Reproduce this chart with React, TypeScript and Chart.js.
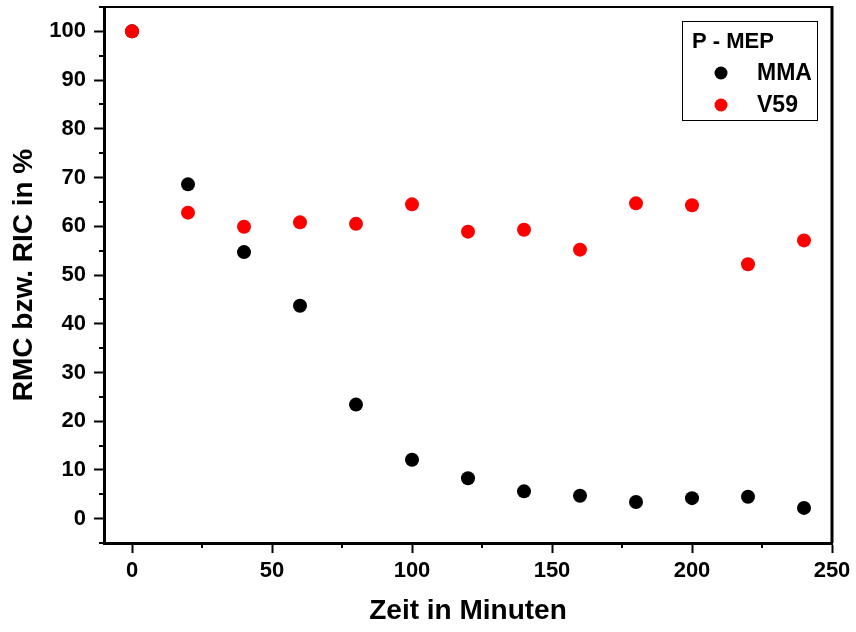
import React, { useEffect, useRef } from "react";
import { Chart, registerables } from "chart.js";

Chart.register(...registerables);

const timeMinutes = [0, 20, 40, 60, 80, 100, 120, 140, 160, 180, 200, 220, 240];
const mmaValues = [100, 68.6, 54.7, 43.7, 23.4, 12.1, 8.3, 5.6, 4.7, 3.4, 4.2, 4.5, 2.2];
const v59Values = [100, 62.8, 59.9, 60.8, 60.5, 64.5, 58.9, 59.3, 55.2, 64.7, 64.3, 52.2, 57.1];
const seriesLabels = ["MMA", "V59"];
const legendTitle = "P - MEP";
const xTickValues = [0, 50, 100, 150, 200, 250];
const yTickValues = [0, 10, 20, 30, 40, 50, 60, 70, 80, 90, 100];
const xMinorTicks = [25, 75, 125, 175, 225];
const yMinorTicks = [-5, 5, 15, 25, 35, 45, 55, 65, 75, 85, 95, 105];
const xTitle = "Zeit in Minuten";
const yTitle = "RMC bzw. RIC in %";

const FONT = "'Liberation Sans', Arial, sans-serif";

const framePlugin = {
  id: "frameAndLegend",
  afterDraw(chart: any) {
    const ctx = chart.ctx;
    const { left, right, top, bottom } = chart.chartArea;
    const xs = chart.scales.x;
    const ys = chart.scales.y;
    ctx.save();
    ctx.strokeStyle = "#000";
    ctx.lineWidth = 2;
    ctx.beginPath();
    ctx.moveTo(left - 1.5, top);
    ctx.lineTo(right, top);
    ctx.stroke();
    ctx.lineWidth = 3;
    ctx.beginPath();
    ctx.moveTo(right, top - 1);
    ctx.lineTo(right, bottom);
    ctx.stroke();
    ctx.lineWidth = 2;
    for (const v of yMinorTicks) {
      const py = Math.round(ys.getPixelForValue(v));
      ctx.beginPath();
      ctx.moveTo(left - 5, py);
      ctx.lineTo(left, py);
      ctx.stroke();
    }
    for (const v of xMinorTicks) {
      const px = Math.round(xs.getPixelForValue(v));
      ctx.beginPath();
      ctx.moveTo(px, bottom);
      ctx.lineTo(px, bottom + 5);
      ctx.stroke();
    }
    const bx = 682, by = 21, bw = 135, bh = 99;
    ctx.lineWidth = 1;
    ctx.strokeRect(bx + 0.5, by + 0.5, bw, bh);
    ctx.fillStyle = "#000";
    ctx.font = `bold 22px ${FONT}`;
    ctx.textBaseline = "middle";
    ctx.textAlign = "left";
    ctx.fillText(legendTitle, 692, 42);
    const rows = [73, 105];
    ctx.font = `bold 23px ${FONT}`;
    chart.data.datasets.forEach((ds: any, i: number) => {
      ctx.beginPath();
      ctx.fillStyle = ds.backgroundColor;
      ctx.arc(721, rows[i], 6.5, 0, Math.PI * 2);
      ctx.fill();
      ctx.fillStyle = "#000";
      ctx.fillText(ds.label, 757, rows[i] + 1);
    });
    ctx.restore();
  },
};

export default function App() {
  const canvasRef = useRef<HTMLCanvasElement | null>(null);

  useEffect(() => {
    document.body.style.margin = "0";
    const canvas = canvasRef.current;
    if (!canvas) return;
    const tickFont = { family: FONT, size: 22, weight: "bold" as const };
    const titleFont = { family: FONT, size: 28, weight: "bold" as const };
    const chart = new Chart(canvas, {
      type: "scatter",
      data: {
        datasets: [
          {
            label: seriesLabels[0],
            data: timeMinutes.map((t, i) => ({ x: t, y: mmaValues[i] })),
            backgroundColor: "#000000",
            borderColor: "#000000",
            pointRadius: 7,
            pointBorderWidth: 0,
            order: 1,
          },
          {
            label: seriesLabels[1],
            data: timeMinutes.map((t, i) => ({ x: t, y: v59Values[i] })),
            backgroundColor: "#ff0000",
            borderColor: "#ff0000",
            pointRadius: 7,
            pointBorderWidth: 0,
            order: 0,
          },
        ],
      },
      options: {
        animation: false,
        responsive: true,
        maintainAspectRatio: false,
        layout: { padding: { top: 7, right: 24, left: 0, bottom: 0 } },
        plugins: {
          legend: { display: false },
          tooltip: { enabled: false },
        },
        scales: {
          x: {
            type: "linear",
            min: -10,
            max: 250,
            afterBuildTicks: (scale: any) => {
              scale.ticks = xTickValues.map((v) => ({ value: v }));
            },
            afterFit: (scale: any) => {
              scale.height = 89;
              scale.paddingLeft = 0;
              scale.paddingRight = 0;
            },
            grid: {
              display: true,
              drawOnChartArea: false,
              drawTicks: true,
              tickLength: 10,
              tickWidth: 2,
              tickColor: "#000",
            },
            border: { display: true, width: 3, color: "#000" },
            ticks: {
              color: "#000",
              font: tickFont,
              padding: 5,
              maxRotation: 0,
              autoSkip: false,
            },
            title: {
              display: true,
              text: xTitle,
              color: "#000",
              font: titleFont,
              padding: { top: 0, bottom: 4 },
            },
          },
          y: {
            type: "linear",
            min: -5,
            max: 105,
            afterBuildTicks: (scale: any) => {
              scale.ticks = yTickValues.map((v) => ({ value: v }));
            },
            afterFit: (scale: any) => {
              scale.width = 104;
              scale.paddingTop = 0;
              scale.paddingBottom = 0;
            },
            grid: {
              display: true,
              drawOnChartArea: false,
              drawTicks: true,
              tickLength: 10,
              tickWidth: 2,
              tickColor: "#000",
            },
            border: { display: true, width: 3, color: "#000" },
            ticks: {
              color: "#000",
              font: tickFont,
              padding: 8,
              autoSkip: false,
            },
            title: {
              display: true,
              text: yTitle,
              color: "#000",
              font: titleFont,
              padding: { top: 7, bottom: 0 },
            },
          },
        },
      },
      plugins: [framePlugin],
    });
    return () => chart.destroy();
  }, []);

  return (
    <div style={{ width: 856, height: 632, position: "relative" }}>
      <canvas ref={canvasRef} />
    </div>
  );
}
